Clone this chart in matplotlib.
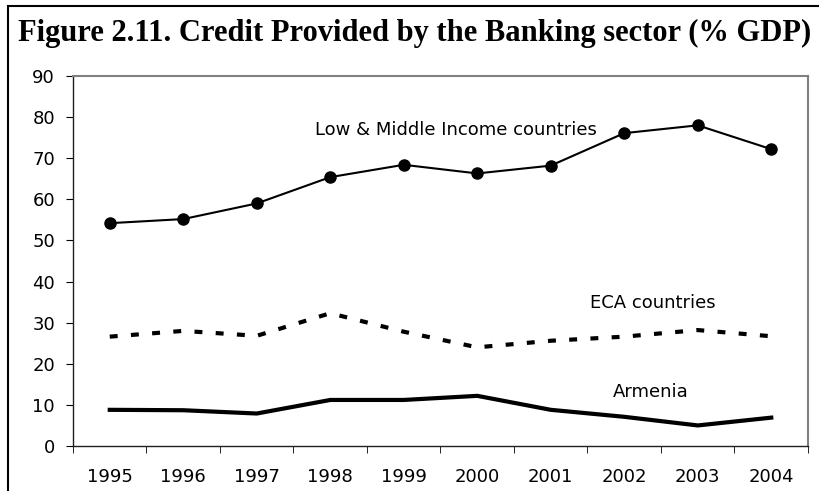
import matplotlib.pyplot as plt
from matplotlib.patches import Rectangle

years = ['1995', '1996', '1997', '1998', '1999', '2000', '2001', '2002', '2003', '2004']
low_middle = [54.2, 55.2, 59.0, 65.4, 68.4, 66.3, 68.2, 76.1, 78.0, 72.2]
eca = [26.6, 28.0, 26.8, 32.3, 27.8, 24.0, 25.6, 26.6, 28.2, 26.7]
armenia = [8.8, 8.7, 7.9, 11.2, 11.2, 12.2, 8.8, 7.1, 5.0, 6.9]

label_font = ['Verdana', 'DejaVu Sans']
fs = 13

fig = plt.figure(figsize=(8.2, 4.91), dpi=100)
ax = fig.add_axes([73 / 820, 1 - 446 / 491, (808 - 73) / 820, (446 - 76) / 491])

x = list(range(len(years)))
ax.plot(x, low_middle, color='black', lw=1.5, marker='o', markersize=8)
ax.plot(x, eca, color='black', lw=3, linestyle=(0, (1.9, 3.2)))
ax.plot(x, armenia, color='black', lw=3)

ax.text(4.71, 76.9, 'Low & Middle Income countries', ha='center', va='center',
        fontsize=fs, family=label_font)
ax.text(7.39, 34.7, 'ECA countries', ha='center', va='center',
        fontsize=fs, family=label_font)
ax.text(7.36, 13.2, 'Armenia', ha='center', va='center',
        fontsize=fs, family=label_font)

ax.set_xlim(-0.5, 9.5)
ax.set_ylim(0, 90)
ax.set_yticks(range(0, 91, 10))
ax.set_xticks(x)
ax.set_xticklabels(years)
ax.set_xticks([i - 0.5 for i in range(11)], minor=True)
ax.tick_params(axis='x', which='major', length=0, pad=16, labelsize=fs)
ax.tick_params(axis='x', which='minor', length=5, direction='out')
ax.tick_params(axis='y', length=5, direction='out', labelsize=fs, pad=8)
for lab in ax.get_xticklabels() + ax.get_yticklabels():
    lab.set_family(label_font)

for s in ['top', 'right']:
    ax.spines[s].set_color('#808080')
    ax.spines[s].set_linewidth(1.5)
for s in ['left', 'bottom']:
    ax.spines[s].set_color('#202020')
    ax.spines[s].set_linewidth(1)

# outer frame
fig.patches.append(Rectangle((8 / 820, -0.1), 1.2, 1 - 6 / 491 + 0.1, transform=fig.transFigure,
                             fill=False, edgecolor='black', lw=1.5))

fig.text(415 / 820, 1 - 33 / 491, 'Figure 2.11. Credit Provided by the Banking sector (% GDP)',
         ha='center', va='center', fontsize=22, fontweight='bold', family='Liberation Serif')

fig.savefig('out.png', dpi=100)
